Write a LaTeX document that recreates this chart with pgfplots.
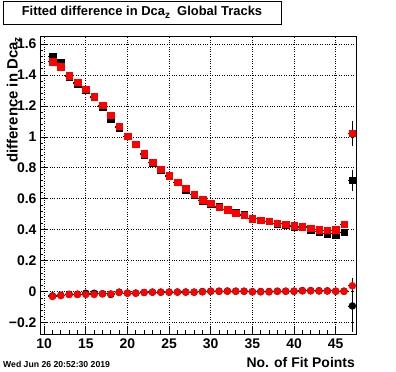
\documentclass[border=0pt]{standalone}
\usepackage{pgfplots}
\pgfplotsset{compat=1.18}
\usepackage{fontspec}
\setmainfont{Liberation Sans}
\newcommand{\sub}[1]{\raisebox{-0.35ex}{\fontsize{10}{10}\selectfont #1}}
\begin{document}
\begin{tikzpicture}
\path[use as bounding box] (-40bp,-38bp) rectangle (356bp,334bp);
\begin{axis}[
  at={(0bp,0bp)}, anchor=south west,
  scale only axis, width=316.5bp, height=297.5bp,
  xmin=9.5, xmax=47.5, ymin=-0.272, ymax=1.648,
  axis line style={line width=1bp},
  tick pos=left, tick align=inside,
  major tick length=7bp, minor tick length=3.5bp,
  every tick/.style={black, line width=0.8bp},
  xtick={10,15,...,45}, minor x tick num=4,
  ytick={-0.2,0,0.2,0.4,0.6,0.8,1,1.2,1.4,1.6},
  yticklabels={−0.2,0,0.2,0.4,0.6,0.8,1,1.2,1.4,1.6},
  minor y tick num=4,
  grid=major, major grid style={black, dotted, line width=0.8bp},
  /pgf/number format/assume math mode=true,
  ticklabel style={font=\bfseries\fontsize{14}{14}\selectfont},
  xticklabel style={yshift=-1bp},
  clip=false,
]
% black squares (upper)
\addplot[only marks, mark=square*, mark size=3.3bp, black,
  error bars/.cd, x dir=both, x explicit, y dir=both, y explicit, error mark=none,
  error bar style={line width=0.9bp, black}] coordinates {
(11,1.519)+-(0.5,0.006) (12,1.480)+-(0.5,0.006) (13,1.390)+-(0.5,0.005) (14,1.345)+-(0.5,0.005)
(15,1.305)+-(0.5,0.005) (16,1.255)+-(0.5,0.005) (17,1.195)+-(0.5,0.006) (18,1.118)+-(0.5,0.008)
(19,1.060)+-(0.5,0.006) (20,1.005)+-(0.5,0.005) (21,0.953)+-(0.5,0.005) (22,0.887)+-(0.5,0.005)
(23,0.835)+-(0.5,0.005) (24,0.790)+-(0.5,0.005) (25,0.747)+-(0.5,0.005) (26,0.707)+-(0.5,0.005)
(27,0.660)+-(0.5,0.005) (28,0.627)+-(0.5,0.005) (29,0.588)+-(0.5,0.005) (30,0.570)+-(0.5,0.005)
(31,0.548)+-(0.5,0.005) (32,0.531)+-(0.5,0.005) (33,0.509)+-(0.5,0.005) (34,0.497)+-(0.5,0.005)
(35,0.476)+-(0.5,0.005) (36,0.463)+-(0.5,0.005) (37,0.455)+-(0.5,0.005) (38,0.441)+-(0.5,0.005)
(39,0.432)+-(0.5,0.005) (40,0.420)+-(0.5,0.005) (41,0.416)+-(0.5,0.005) (42,0.403)+-(0.5,0.005)
(43,0.390)+-(0.5,0.005) (44,0.376)+-(0.5,0.006) (45,0.369)+-(0.5,0.007) (46,0.384)+-(0.5,0.008)
(47,0.720)+-(0.5,0.067)
};
% red squares (upper)
\addplot[only marks, mark=square*, mark size=3.3bp, red,
  error bars/.cd, x dir=both, x explicit, y dir=both, y explicit, error mark=none,
  error bar style={line width=0.9bp, black}] coordinates {
(11,1.484)+-(0.5,0.006) (12,1.452)+-(0.5,0.006) (13,1.394)+-(0.5,0.005) (14,1.353)+-(0.5,0.005)
(15,1.307)+-(0.5,0.005) (16,1.258)+-(0.5,0.005) (17,1.204)+-(0.5,0.006) (18,1.139)+-(0.5,0.008)
(19,1.070)+-(0.5,0.006) (20,1.005)+-(0.5,0.005) (21,0.953)+-(0.5,0.005) (22,0.890)+-(0.5,0.005)
(23,0.837)+-(0.5,0.005) (24,0.792)+-(0.5,0.005) (25,0.749)+-(0.5,0.005) (26,0.708)+-(0.5,0.005)
(27,0.668)+-(0.5,0.005) (28,0.630)+-(0.5,0.005) (29,0.593)+-(0.5,0.005) (30,0.572)+-(0.5,0.005)
(31,0.546)+-(0.5,0.005) (32,0.529)+-(0.5,0.005) (33,0.507)+-(0.5,0.005) (34,0.494)+-(0.5,0.005)
(35,0.474)+-(0.5,0.005) (36,0.462)+-(0.5,0.005) (37,0.455)+-(0.5,0.005) (38,0.444)+-(0.5,0.005)
(39,0.436)+-(0.5,0.005) (40,0.427)+-(0.5,0.005) (41,0.421)+-(0.5,0.005) (42,0.410)+-(0.5,0.005)
(43,0.401)+-(0.5,0.005) (44,0.397)+-(0.5,0.006) (45,0.403)+-(0.5,0.007) (46,0.436)+-(0.5,0.008)
(47,1.023)+-(0.5,0.082)
};
% black circles (lower)
\addplot[only marks, mark=*, mark size=3.5bp, black,
  error bars/.cd, x dir=both, x explicit, y dir=both, y explicit, error mark=none,
  error bar style={line width=0.9bp, black}] coordinates {
(11,-0.026)+-(0.5,0.005) (12,-0.022)+-(0.5,0.005) (13,-0.016)+-(0.5,0.005) (14,-0.015)+-(0.5,0.005)
(15,-0.009)+-(0.5,0.005) (16,-0.009)+-(0.5,0.005) (17,-0.012)+-(0.5,0.005) (18,-0.017)+-(0.5,0.005)
(19,-0.002)+-(0.5,0.005) (20,-0.008)+-(0.5,0.005) (21,-0.008)+-(0.5,0.005) (22,-0.004)+-(0.5,0.005)
(23,-0.002)+-(0.5,0.005) (24,-0.002)+-(0.5,0.005) (25,-0.002)+-(0.5,0.005) (26,-0.001)+-(0.5,0.005)
(27,-0.001)+-(0.5,0.005) (28,-0.002)+-(0.5,0.005) (29,0.002)+-(0.5,0.005) (30,0.004)+-(0.5,0.005)
(31,0.004)+-(0.5,0.005) (32,0.005)+-(0.5,0.005) (33,0.004)+-(0.5,0.005) (34,0.004)+-(0.5,0.005)
(35,0.001)+-(0.5,0.005) (36,0.002)+-(0.5,0.005) (37,0.002)+-(0.5,0.005) (38,0.004)+-(0.5,0.005)
(39,0.004)+-(0.5,0.005) (40,0.004)+-(0.5,0.005) (41,0.008)+-(0.5,0.005) (42,0.008)+-(0.5,0.005)
(43,0.007)+-(0.5,0.005) (44,0.006)+-(0.5,0.005) (45,0.004)+-(0.5,0.006) (46,0.004)+-(0.5,0.007)
(47,-0.091)+-(0.5,0.170)
};
% red circles (lower)
\addplot[only marks, mark=*, mark size=3.5bp, red,
  error bars/.cd, x dir=both, x explicit, y dir=both, y explicit, error mark=none,
  error bar style={line width=0.9bp, black}] coordinates {
(11,-0.030)+-(0.5,0.005) (12,-0.024)+-(0.5,0.005) (13,-0.017)+-(0.5,0.005) (14,-0.017)+-(0.5,0.005)
(15,-0.017)+-(0.5,0.005) (16,-0.017)+-(0.5,0.005) (17,-0.013)+-(0.5,0.005) (18,-0.013)+-(0.5,0.005)
(19,-0.004)+-(0.5,0.005) (20,-0.009)+-(0.5,0.005) (21,-0.009)+-(0.5,0.005) (22,-0.004)+-(0.5,0.005)
(23,-0.002)+-(0.5,0.005) (24,-0.002)+-(0.5,0.005) (25,-0.002)+-(0.5,0.005) (26,-0.002)+-(0.5,0.005)
(27,-0.002)+-(0.5,0.005) (28,-0.002)+-(0.5,0.005) (29,0.000)+-(0.5,0.005) (30,0.004)+-(0.5,0.005)
(31,0.004)+-(0.5,0.005) (32,0.004)+-(0.5,0.005) (33,0.004)+-(0.5,0.005) (34,0.004)+-(0.5,0.005)
(35,0.000)+-(0.5,0.005) (36,0.000)+-(0.5,0.005) (37,0.000)+-(0.5,0.005) (38,0.004)+-(0.5,0.005)
(39,0.004)+-(0.5,0.005) (40,0.004)+-(0.5,0.005) (41,0.006)+-(0.5,0.005) (42,0.006)+-(0.5,0.005)
(43,0.006)+-(0.5,0.005) (44,0.006)+-(0.5,0.005) (45,0.004)+-(0.5,0.006) (46,0.004)+-(0.5,0.007)
(47,0.039)+-(0.5,0.050)
};
\end{axis}
% title box
\draw[line width=0.9bp, fill=white] (-37bp,310bp) rectangle (241bp,333bp);
\node[font=\bfseries\fontsize{13}{14}\selectfont] at (102bp,321.5bp) {Fitted difference in Dca\sub{z}~ Global Tracks};
% axis titles
\node[anchor=base east, inner sep=0pt, font=\bfseries\fontsize{14}{14}\selectfont] at (315bp,-33.7bp) {No. of Fit Points};
\node[rotate=90, anchor=base east, inner sep=0pt, font=\bfseries\fontsize{15}{15}\selectfont] at (-22.5bp,297bp) {difference in Dca\sub{z}};
% timestamp
\node[anchor=base west, inner sep=0pt, font=\bfseries\fontsize{8.7}{9}\selectfont] at (-37bp,-33bp) {Wed Jun 26 20:52:30 2019};
\end{tikzpicture}
\end{document}
